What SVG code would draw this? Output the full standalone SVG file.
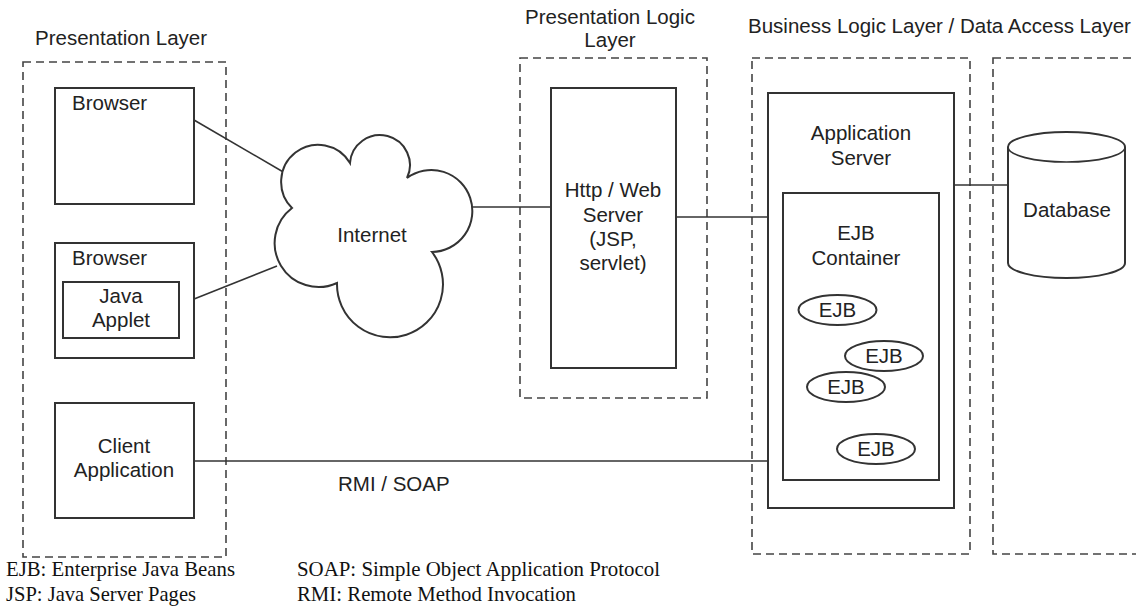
<svg xmlns="http://www.w3.org/2000/svg" width="1136" height="606" viewBox="0 0 1136 606">
  <style>
    .lbl { font-family: "Liberation Sans", Arial, sans-serif; font-size: 20.5px; fill: #222; }
    .mid { text-anchor: middle; }
    .leg { font-family: "Liberation Serif", "Times New Roman", serif; font-size: 22px; fill: #111; }
    .dash { fill: none; stroke: #444; stroke-width: 1.6; stroke-dasharray: 8 5; }
    .box { fill: #fff; stroke: #333; stroke-width: 2; }
    .conn { fill: none; stroke: #333; stroke-width: 1.6; }
  </style>
  <rect width="1136" height="606" fill="#fff"/>

  <g id="layers">
    <g id="presentation-layer">
      <text class="lbl" x="35" y="45">Presentation Layer</text>
      <rect class="dash" x="23" y="62" width="203" height="495"/>
    </g>
    <g id="presentation-logic-layer">
      <text class="lbl mid" x="610" y="24">Presentation Logic</text>
      <text class="lbl mid" x="610" y="47">Layer</text>
      <rect class="dash" x="520" y="58" width="187" height="340"/>
    </g>
    <g id="business-logic-layer">
      <text class="lbl" x="748" y="33">Business Logic Layer / Data Access Layer</text>
      <rect class="dash" x="752" y="58" width="218" height="496"/>
    </g>
    <g id="data-access-layer">
      <rect class="dash" x="993" y="58" width="170" height="496"/>
    </g>
  </g>

  <g id="connectors">
    <line class="conn" x1="194" y1="120" x2="285" y2="173"/>
    <line class="conn" x1="179" y1="305" x2="277" y2="266"/>
    <line class="conn" x1="470" y1="207" x2="551" y2="207"/>
    <line class="conn" x1="676" y1="217" x2="783" y2="217"/>
    <line class="conn" x1="954" y1="185" x2="1008" y2="185"/>
    <line class="conn" x1="194" y1="461" x2="768" y2="461"/>
    <text class="lbl" x="338" y="491">RMI / SOAP</text>
  </g>

  <g id="browser1">
    <rect class="box" x="55" y="88" width="139" height="116"/>
    <text class="lbl" x="72" y="110">Browser</text>
  </g>
  <g id="browser2">
    <rect class="box" x="55" y="243" width="139" height="115"/>
    <text class="lbl" x="72" y="265">Browser</text>
  </g>
  <g id="java-applet">
    <rect class="box" x="63" y="282" width="116" height="56"/>
    <text class="lbl mid" x="121" y="303">Java</text>
    <text class="lbl mid" x="121" y="327">Applet</text>
  </g>
  <g id="client-application">
    <rect class="box" x="55" y="403" width="139" height="115"/>
    <text class="lbl mid" x="124" y="453">Client</text>
    <text class="lbl mid" x="124" y="477">Application</text>
  </g>

  <g id="internet">
    <path class="box" d="M 292 208 A 37 37 0 1 1 350 163 A 30 30 0 1 1 407 178 A 41 41 0 1 1 432 252 A 53 53 0 1 1 337 283 A 44 44 0 0 1 292 208 Z"/>
    <text class="lbl mid" x="372" y="242">Internet</text>
  </g>

  <g id="web-server">
    <rect class="box" x="551" y="88" width="125" height="280"/>
    <text class="lbl mid" x="613" y="197">Http / Web</text>
    <text class="lbl mid" x="613" y="222">Server</text>
    <text class="lbl mid" x="613" y="246">(JSP,</text>
    <text class="lbl mid" x="613" y="270">servlet)</text>
  </g>

  <g id="application-server">
    <rect class="box" x="768" y="93" width="186" height="415"/>
    <text class="lbl mid" x="861" y="140">Application</text>
    <text class="lbl mid" x="861" y="165">Server</text>
  </g>

  <g id="ejb-container">
    <rect class="box" x="783" y="193" width="156" height="287"/>
    <text class="lbl mid" x="856" y="240">EJB</text>
    <text class="lbl mid" x="856" y="265">Container</text>
  </g>

  <g id="ejb1">
    <ellipse class="box" cx="837.5" cy="310" rx="39" ry="15" stroke-width="1.6"/>
    <text class="lbl mid" x="837.5" y="317">EJB</text>
  </g>
  <g id="ejb2">
    <ellipse class="box" cx="884" cy="356" rx="39" ry="15" stroke-width="1.6"/>
    <text class="lbl mid" x="884" y="363">EJB</text>
  </g>
  <g id="ejb3">
    <ellipse class="box" cx="846" cy="387" rx="39" ry="15" stroke-width="1.6"/>
    <text class="lbl mid" x="846" y="394">EJB</text>
  </g>
  <g id="ejb4">
    <ellipse class="box" cx="876" cy="449" rx="39" ry="15" stroke-width="1.6"/>
    <text class="lbl mid" x="876" y="456">EJB</text>
  </g>

  <g id="database">
    <path class="box" d="M 1008 147 A 58.5 15 0 0 1 1125 147 L 1125 263 A 58.5 15 0 0 1 1008 263 Z"/>
    <path class="conn" stroke-width="2" d="M 1008 147 A 58.5 15 0 0 0 1125 147"/>
    <text class="lbl mid" x="1067" y="217">Database</text>
  </g>

  <g id="legend">
    <text class="leg" x="6" y="576" textLength="229" lengthAdjust="spacingAndGlyphs">EJB: Enterprise Java Beans</text>
    <text class="leg" x="6" y="601" textLength="190" lengthAdjust="spacingAndGlyphs">JSP: Java Server Pages</text>
    <text class="leg" x="297" y="576" textLength="363" lengthAdjust="spacingAndGlyphs">SOAP: Simple Object Application Protocol</text>
    <text class="leg" x="297" y="601" textLength="279" lengthAdjust="spacingAndGlyphs">RMI: Remote Method Invocation</text>
  </g>
</svg>
